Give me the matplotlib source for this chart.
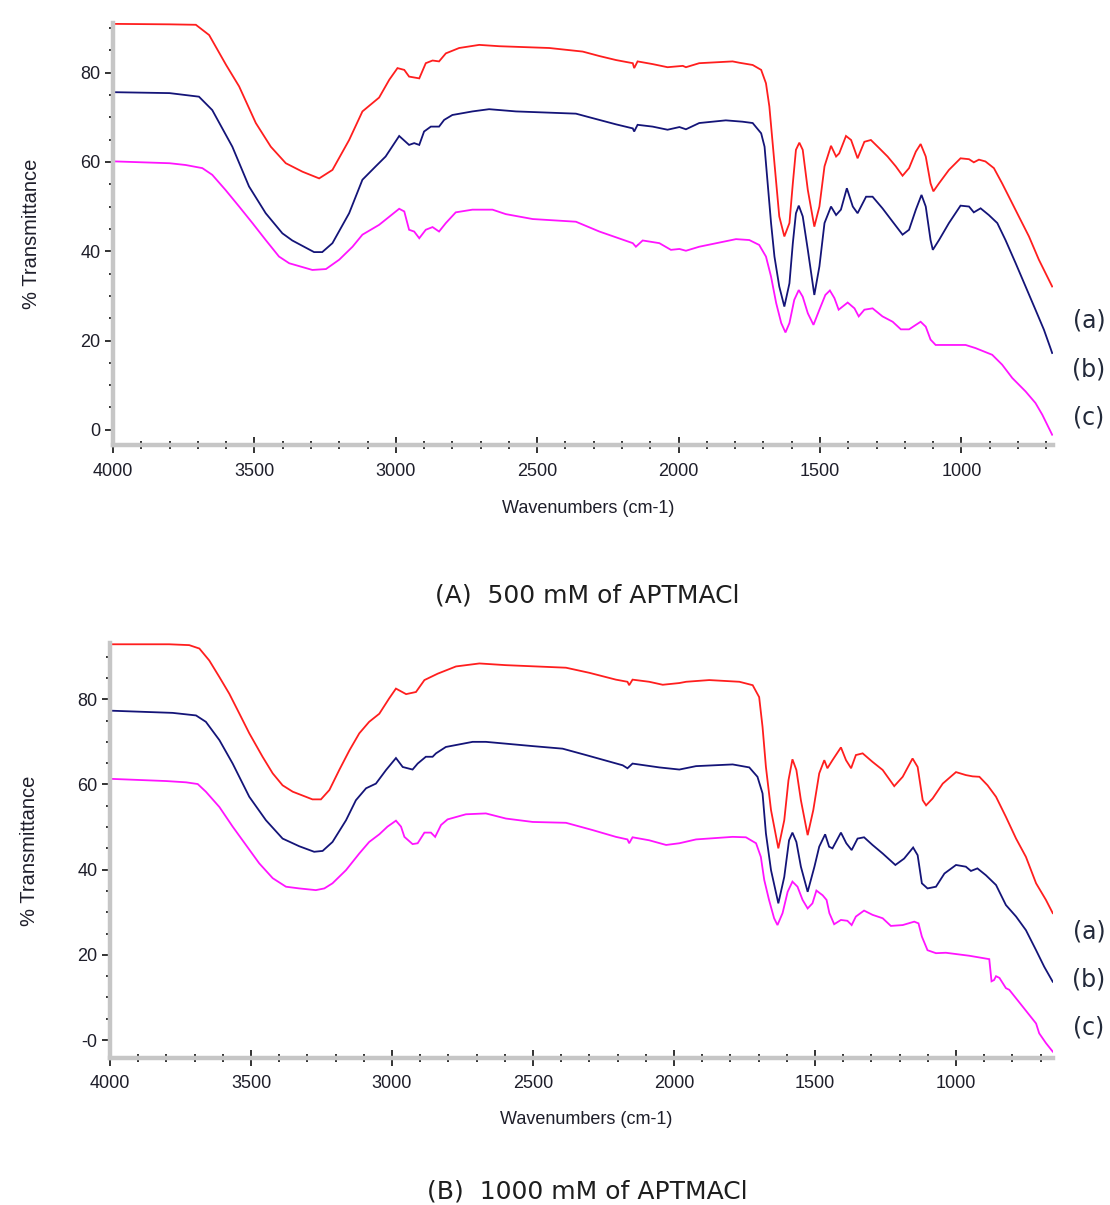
import matplotlib
matplotlib.use("Agg")
import matplotlib.pyplot as plt
from matplotlib.ticker import MultipleLocator, FixedLocator, FixedFormatter

# ---------------- data ----------------
# Panel A: 500 mM of APTMACl
a_red_wn = [3991, 3800, 3707, 3660, 3600, 3554, 3495, 3442, 3389, 3330, 3271, 3224, 3165, 3118,
            3059, 3023, 2994, 2970, 2953, 2917, 2894, 2870, 2847, 2823, 2776, 2705, 2634, 2457,
            2339, 2280, 2221, 2162, 2157, 2145, 2092, 2039, 1985, 1974, 1927, 1809, 1785, 1738,
            1708, 1691, 1679, 1661, 1644, 1626, 1608, 1596, 1585, 1573, 1561, 1543, 1520, 1502,
            1484, 1461, 1443, 1432, 1408, 1390, 1367, 1343, 1320, 1291, 1261, 1232, 1208, 1185,
            1161, 1144, 1126, 1109, 1099, 1079, 1044, 1003, 973, 956, 938, 915, 885, 856, 832,
            797, 761, 726, 679]
a_red_t = [90.9, 90.8, 90.7, 88.4, 81.7, 76.9, 68.7, 63.4, 59.7, 57.8, 56.3, 58.2, 64.9, 71.3,
           74.4, 78.4, 81.0, 80.6, 79.1, 78.7, 82.1, 82.7, 82.5, 84.3, 85.5, 86.2, 85.9, 85.5,
           84.7, 83.7, 82.8, 82.1, 81.0, 82.5, 81.9, 81.2, 81.5, 81.2, 82.1, 82.5, 82.2, 81.7,
           80.6, 77.6, 72.4, 59.7, 47.8, 43.3, 46.3, 55.2, 62.7, 64.3, 62.7, 53.7, 45.5, 50.0,
           59.0, 63.6, 61.2, 61.9, 65.8, 64.9, 60.8, 64.5, 64.9, 63.1, 61.2, 59.0, 56.9, 58.6,
           62.3, 64.0, 61.2, 55.2, 53.4, 55.2, 58.2, 60.8, 60.6, 59.9, 60.5, 60.1, 58.6, 55.2,
           52.2, 47.8, 43.3, 38.1, 32.1]

a_blue_wn = [3991, 3800, 3696, 3649, 3578, 3519, 3460, 3401, 3366, 3289, 3260, 3224, 3165, 3118,
             3071, 3036, 2988, 2953, 2935, 2917, 2900, 2876, 2847, 2829, 2800, 2729, 2670, 2575,
             2363, 2316, 2221, 2162, 2157, 2145, 2092, 2039, 1997, 1974, 1927, 1833, 1774, 1738,
             1708, 1696, 1685, 1673, 1661, 1644, 1626, 1608, 1596, 1585, 1575, 1561, 1543, 1520,
             1502, 1484, 1461, 1443, 1426, 1405, 1384, 1367, 1337, 1314, 1279, 1243, 1208, 1185,
             1161, 1141, 1126, 1109, 1101, 1079, 1044, 1003, 973, 956, 932, 903, 873, 844, 808,
             773, 738, 708, 685, 679]
a_blue_t = [75.6, 75.4, 74.6, 71.6, 63.4, 54.5, 48.5, 44.0, 42.4, 39.8, 39.8, 41.8, 48.5, 56.0,
            59.0, 61.2, 65.8, 63.8, 64.2, 63.8, 66.8, 67.9, 67.9, 69.4, 70.5, 71.3, 71.8, 71.3,
            70.8, 70.0, 68.4, 67.5, 66.8, 68.3, 67.9, 67.2, 67.8, 67.3, 68.7, 69.3, 69.0, 68.7,
            66.4, 63.4, 55.2, 46.3, 38.8, 32.1, 27.6, 32.8, 41.8, 48.5, 50.2, 47.8, 40.3, 30.2,
            36.6, 46.3, 50.0, 48.1, 49.3, 54.1, 50.0, 48.5, 52.2, 52.2, 49.6, 46.6, 43.7, 44.8,
            49.3, 52.6, 50.0, 42.5, 40.3, 42.5, 46.3, 50.2, 50.0, 48.7, 49.6, 48.1, 46.3, 42.5,
            37.3, 32.1, 26.9, 22.4, 18.3, 17.2]

a_mag_wn = [3991, 3800, 3743, 3684, 3649, 3602, 3554, 3507, 3460, 3413, 3377, 3295, 3247, 3200,
            3153, 3118, 3059, 2988, 2970, 2953, 2935, 2917, 2894, 2870, 2847, 2823, 2788, 2729,
            2658, 2611, 2516, 2363, 2280, 2162, 2151, 2127, 2068, 2027, 1997, 1974, 1927, 1797,
            1750, 1715, 1691, 1673, 1655, 1637, 1622, 1608, 1591, 1575, 1561, 1543, 1523, 1502,
            1481, 1465, 1449, 1434, 1402, 1378, 1363, 1343, 1314, 1279, 1243, 1214, 1185, 1161,
            1144, 1126, 1109, 1091, 1044, 985, 950, 891, 856, 820, 773, 738, 714, 679]
a_mag_t = [60.1, 59.7, 59.3, 58.6, 57.1, 53.7, 50.0, 46.3, 42.5, 38.8, 37.3, 35.8, 36.0, 38.1,
           41.0, 43.7, 45.9, 49.5, 48.9, 44.8, 44.4, 42.9, 44.8, 45.4, 44.4, 46.3, 48.7, 49.3,
           49.3, 48.3, 47.2, 46.6, 44.4, 41.8, 41.0, 42.4, 41.8, 40.3, 40.5, 40.1, 41.0, 42.7,
           42.5, 41.4, 38.8, 34.3, 28.4, 23.9, 21.8, 23.9, 29.1, 31.3, 29.8, 26.1, 23.5, 26.9,
           30.2, 31.2, 29.5, 26.9, 28.5, 27.2, 25.4, 26.9, 27.2, 25.4, 24.2, 22.5, 22.5, 23.5,
           24.2, 23.1, 20.2, 19.0, 19.0, 19.0, 18.3, 16.8, 14.6, 11.6, 8.6, 6.0, 3.4, -1.1]

# Panel B: 1000 mM of APTMACl
b_red_wn = [3991, 3790, 3719, 3683, 3648, 3612, 3577, 3541, 3506, 3459, 3423, 3388, 3352, 3282,
            3252, 3222, 3187, 3151, 3116, 3081, 3045, 3010, 2986, 2950, 2915, 2885, 2838, 2773,
            2690, 2596, 2383, 2300, 2206, 2165, 2159, 2147, 2088, 2040, 1981, 1957, 1875, 1768,
            1721, 1698, 1686, 1674, 1656, 1630, 1609, 1594, 1580, 1566, 1550, 1526, 1506, 1485,
            1467, 1456, 1438, 1408, 1390, 1372, 1355, 1331, 1296, 1260, 1219, 1189, 1154, 1136,
            1118, 1106, 1083, 1047, 1000, 965, 941, 917, 888, 858, 823, 787, 752, 716, 681, 657]
b_red_t = [92.9, 92.9, 92.7, 91.9, 89.1, 85.2, 81.3, 76.6, 72.0, 66.5, 62.6, 59.8, 58.3, 56.5,
           56.5, 58.7, 63.4, 68.0, 72.0, 74.7, 76.6, 80.2, 82.5, 81.2, 81.7, 84.5, 86.0, 87.7,
           88.4, 88.0, 87.4, 86.2, 84.6, 84.1, 83.3, 84.6, 84.1, 83.4, 83.8, 84.1, 84.5, 84.1,
           83.3, 80.5, 73.5, 64.1, 54.0, 45.0, 51.6, 61.0, 65.9, 63.4, 56.3, 48.1, 54.0, 62.6,
           65.7, 63.8, 65.7, 68.7, 65.7, 63.8, 66.9, 67.3, 65.3, 63.4, 59.6, 61.8, 66.1, 64.1,
           56.3, 55.1, 56.7, 60.2, 62.9, 62.2, 61.9, 61.8, 59.8, 57.1, 52.4, 47.3, 43.0, 36.8,
           32.9, 29.8]

b_blue_wn = [3991, 3778, 3695, 3660, 3612, 3565, 3506, 3447, 3388, 3329, 3276, 3246, 3211, 3163,
             3128, 3092, 3057, 3021, 2986, 2962, 2927, 2909, 2880, 2856, 2844, 2809, 2714, 2667,
             2501, 2395, 2312, 2182, 2165, 2147, 2052, 1981, 1922, 1792, 1733, 1704, 1686, 1674,
             1656, 1630, 1609, 1592, 1580, 1566, 1550, 1526, 1502, 1485, 1464, 1450, 1438, 1408,
             1389, 1370, 1349, 1326, 1296, 1260, 1215, 1184, 1152, 1136, 1121, 1101, 1071, 1041,
             1000, 965, 947, 924, 894, 858, 823, 787, 752, 716, 687, 657]
b_blue_t = [77.3, 76.8, 76.2, 74.7, 70.4, 64.9, 57.1, 51.6, 47.3, 45.5, 44.2, 44.4, 46.5, 51.6,
            56.3, 59.1, 60.2, 63.4, 66.2, 64.1, 63.5, 64.9, 66.5, 66.5, 67.3, 68.8, 70.0, 70.0,
            69.0, 68.4, 66.9, 64.5, 63.8, 64.9, 64.0, 63.5, 64.3, 64.7, 64.0, 61.8, 57.9, 48.5,
            39.9, 32.1, 38.3, 46.9, 48.7, 46.5, 40.7, 34.8, 40.7, 45.4, 48.3, 45.4, 45.0, 48.7,
            46.2, 44.6, 47.3, 47.6, 45.8, 43.8, 41.1, 42.6, 45.2, 43.4, 36.8, 35.6, 36.0, 39.1,
            41.1, 40.7, 39.7, 40.3, 38.7, 36.4, 31.7, 29.0, 25.8, 21.1, 17.2, 13.7]

b_mag_wn = [3991, 3801, 3730, 3689, 3660, 3612, 3565, 3518, 3471, 3423, 3376, 3329, 3270, 3240,
            3211, 3163, 3116, 3081, 3045, 3016, 2986, 2968, 2956, 2927, 2909, 2885, 2862, 2847,
            2826, 2803, 2738, 2667, 2596, 2501, 2383, 2289, 2206, 2165, 2159, 2147, 2088, 2028,
            1981, 1922, 1792, 1745, 1709, 1692, 1680, 1663, 1645, 1633, 1615, 1597, 1580, 1562,
            1544, 1526, 1509, 1495, 1473, 1459, 1449, 1432, 1408, 1385, 1370, 1355, 1326, 1296,
            1260, 1231, 1189, 1148, 1133, 1121, 1101, 1071, 1036, 953, 882, 874, 865, 858, 846,
            823, 811, 764, 716, 705, 681, 657]
b_mag_t = [61.3, 60.8, 60.5, 60.1, 58.3, 54.7, 50.1, 45.8, 41.5, 38.0, 36.0, 35.6, 35.2, 35.6,
           36.8, 39.9, 43.8, 46.5, 48.3, 50.1, 51.5, 50.1, 47.7, 46.0, 46.2, 48.7, 48.7, 47.7,
           50.5, 51.8, 53.0, 53.2, 52.0, 51.2, 51.0, 49.3, 47.7, 47.1, 46.2, 47.6, 46.9, 45.8,
           46.2, 47.1, 47.7, 47.6, 46.2, 43.0, 37.6, 32.9, 28.6, 27.0, 29.8, 34.8, 37.2, 36.0,
           32.9, 30.9, 32.1, 35.1, 34.0, 32.9, 29.8, 27.2, 28.2, 28.0, 27.0, 29.0, 30.4, 29.4,
           28.6, 26.8, 27.0, 27.8, 27.4, 24.3, 21.1, 20.4, 20.5, 19.8, 19.0, 13.8, 14.1, 15.0,
           14.6, 12.2, 11.8, 7.9, 3.9, 1.6, -0.7, -2.7]

x_major_ticks = [4000, 3500, 3000, 2500, 2000, 1500, 1000]
x_tick_labels = ["4000", "3500", "3000", "2500", "2000", "1500", "1000"]
y_major_ticks = [0, 20, 40, 60, 80]
y_tick_labels_a = ["0", "20", "40", "60", "80"]
y_tick_labels_b = ["-0", "20", "40", "60", "80"]
series_tags = ["(a)", "(b)", "(c)"]
captions = ["(A)  500 mM of APTMACl", "(B)  1000 mM of APTMACl"]
x_label = "Wavenumbers (cm-1)"
y_label = "% Transmittance"

# ---------------- figure ----------------
W, H = 1110, 1205
fig = plt.figure(figsize=(W / 100, H / 100), dpi=100)

TICKFONT = ["Liberation Sans", "DejaVu Sans"]
CAPFONT = ["DejaVu Sans"]
TXT = "#1e1e2a"
COLORS = ["#ff1e1e", "#141478", "#ff14ff"]


def px_axes(l, t, r, b):
    return [l / W, 1 - b / H, (r - l) / W, (b - t) / H]


def setup(ax, xlim, ylim, ylabels, xlab_y, ylab_x, xpad):
    ax.set_xlim(*xlim)
    ax.set_ylim(*ylim)
    for s in ["top", "right"]:
        ax.spines[s].set_visible(False)
    for s in ["left", "bottom"]:
        ax.spines[s].set_color("#c6c6c6")
        ax.spines[s].set_linewidth(3.2)
    ax.xaxis.set_major_locator(FixedLocator(x_major_ticks))
    ax.xaxis.set_major_formatter(FixedFormatter(x_tick_labels))
    ax.xaxis.set_minor_locator(MultipleLocator(100))
    ax.yaxis.set_major_locator(FixedLocator(y_major_ticks))
    ax.yaxis.set_major_formatter(FixedFormatter(ylabels))
    ax.yaxis.set_minor_locator(MultipleLocator(5))
    ax.tick_params(axis="x", which="major", direction="inout", length=12, width=1.2,
                   color="#111111", pad=xpad, labelsize=13, labelcolor=TXT)
    ax.tick_params(axis="x", which="minor", direction="inout", length=6, width=1.2,
                   color="#111111")
    ax.tick_params(axis="y", which="major", direction="out", length=6, width=1.2,
                   color="#111111", pad=3, labelsize=13, labelcolor=TXT)
    ax.tick_params(axis="y", which="minor", direction="out", length=3, width=1.2,
                   color="#111111")
    for lab in ax.get_xticklabels() + ax.get_yticklabels():
        lab.set_family(TICKFONT)
    ax.set_xlabel(x_label, fontsize=13, family=TICKFONT, color=TXT)
    ax.set_ylabel(y_label, fontsize=14.5, family=TICKFONT, color=TXT)
    ax.xaxis.set_label_coords(0.505, xlab_y)
    ax.yaxis.set_label_coords(ylab_x, 0.5)


# Panel A
axA = fig.add_axes(px_axes(113, 23, 1053, 445))
for wn, t, c in [(a_red_wn, a_red_t, COLORS[0]), (a_blue_wn, a_blue_t, COLORS[1]),
                 (a_mag_wn, a_mag_t, COLORS[2])]:
    axA.plot(wn, t, color=c, lw=1.3, solid_joinstyle="miter")
setup(axA, (4000, 676), (-3.4, 91.1), y_tick_labels_a, -0.131, -0.077, 7)

# Panel B
axB = fig.add_axes(px_axes(110, 643, 1053, 1058))
for wn, t, c in [(b_red_wn, b_red_t, COLORS[0]), (b_blue_wn, b_blue_t, COLORS[1]),
                 (b_mag_wn, b_mag_t, COLORS[2])]:
    axB.plot(wn, t, color=c, lw=1.3, solid_joinstyle="miter")
setup(axB, (4000, 656), (-4.2, 93.2), y_tick_labels_b, -0.127, -0.075, 6)

# series tags
for ys in ([321, 370, 418], [932, 980, 1028]):
    for tag, y in zip(series_tags, ys):
        fig.text(1089 / W, 1 - y / H, tag, ha="center", va="center", fontsize=17,
                 family=CAPFONT, color="#22293a")

# captions
fig.text(587 / W, 1 - 595 / H, captions[0], ha="center", va="center", fontsize=18,
         family=CAPFONT, color="#1e1e1e")
fig.text(587 / W, 1 - 1191 / H, captions[1], ha="center", va="center", fontsize=18,
         family=CAPFONT, color="#1e1e1e")

fig.savefig("out.png", dpi=100, facecolor="white")
